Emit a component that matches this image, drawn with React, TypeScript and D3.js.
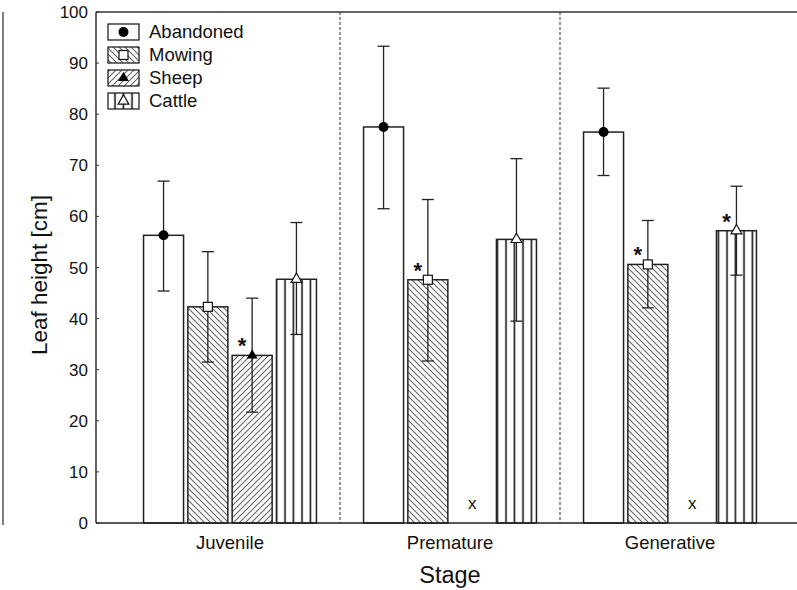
import React from "react";
import * as d3 from "d3";

const stages = ["Juvenile", "Premature", "Generative"];
const treatments = ["Abandoned", "Mowing", "Sheep", "Cattle"];

const abandonedMean = [56.3, 77.5, 76.5];
const abandonedLow = [45.4, 61.5, 68.0];
const abandonedHigh = [66.9, 93.3, 85.1];

const mowingMean = [42.3, 47.6, 50.6];
const mowingLow = [31.5, 31.7, 42.1];
const mowingHigh = [53.1, 63.3, 59.2];

const sheepMean: (number | null)[] = [32.8, null, null];
const sheepLow: (number | null)[] = [21.7, null, null];
const sheepHigh: (number | null)[] = [44.0, null, null];

const cattleMean = [47.7, 55.5, 57.2];
const cattleLow = [36.9, 39.5, 48.5];
const cattleHigh = [58.8, 71.3, 65.9];

// significance stars: [stage, treatment]
const starred: [string, string][] = [
  ["Juvenile", "Sheep"],
  ["Premature", "Mowing"],
  ["Generative", "Mowing"],
  ["Generative", "Cattle"],
];

const yTicks = [0, 10, 20, 30, 40, 50, 60, 70, 80, 90, 100];

const series: Record<string, { mean: (number | null)[]; low: (number | null)[]; high: (number | null)[] }> = {
  Abandoned: { mean: abandonedMean, low: abandonedLow, high: abandonedHigh },
  Mowing: { mean: mowingMean, low: mowingLow, high: mowingHigh },
  Sheep: { mean: sheepMean, low: sheepLow, high: sheepHigh },
  Cattle: { mean: cattleMean, low: cattleLow, high: cattleHigh },
};

const fills: Record<string, string> = {
  Abandoned: "white",
  Mowing: "url(#hatchBack)",
  Sheep: "url(#hatchFwd)",
  Cattle: "url(#vert)",
};

const FONT = "Liberation Sans, Arial, sans-serif";

function Marker({ t, cx, cy }: { t: string; cx: number; cy: number }) {
  if (t === "Abandoned") return <circle cx={cx} cy={cy} r={5} fill="#000" />;
  if (t === "Mowing")
    return <rect x={cx - 4.5} y={cy - 4.5} width={9} height={9} fill="white" stroke="#111" strokeWidth={1.2} />;
  const tri = d3.symbol().type(d3.symbolTriangle).size(50)();
  if (t === "Sheep") return <path d={tri || ""} transform={`translate(${cx},${cy})`} fill="#000" />;
  return <path d={tri || ""} transform={`translate(${cx},${cy})`} fill="white" stroke="#111" strokeWidth={1.2} />;
}

export default function App() {
  const W = 797, H = 590;
  const left = 96, top = 12, bottom = 523, right = 797;
  const y = d3.scaleLinear().domain([0, 100]).range([bottom, top]);
  const xStage = d3.scaleBand<string>().domain(stages).range([120, 780]).padding(0);
  const inner = d3.scaleBand<string>().domain(treatments).range([-86.45, 86.45]).paddingInner(0.097).paddingOuter(0);
  const bw = inner.bandwidth();
  const center = (s: string) => (xStage(s) as number) + xStage.bandwidth() / 2;
  const barX = (s: string, t: string) => center(s) + (inner(t) as number);
  const cap = 6;

  return (
    <svg width={W} height={H} style={{ position: "absolute", left: 0, top: 0, background: "white" }} fontFamily={FONT}>
      <defs>
        <pattern id="hatchBack" patternUnits="userSpaceOnUse" width={6} height={6}>
          <rect width={6} height={6} fill="white" />
          <path d="M-1,-1 L7,7 M-1,5 L1,7 M5,-1 L7,1" stroke="#666" strokeWidth={1.1} />
        </pattern>
        <pattern id="hatchFwd" patternUnits="userSpaceOnUse" width={6} height={6}>
          <rect width={6} height={6} fill="white" />
          <path d="M-1,7 L7,-1 M-1,1 L1,-1 M5,7 L7,5" stroke="#666" strokeWidth={1.1} />
        </pattern>
        <pattern id="vert" patternUnits="userSpaceOnUse" width={8.5} height={10} x={0.5}>
          <rect width={8.5} height={10} fill="white" />
          <line x1={4} x2={4} y1={0} y2={10} stroke="#222" strokeWidth={1.7} />
        </pattern>
      </defs>

      {/* left stray border */}
      <line x1={3} x2={3} y1={12} y2={525} stroke="#555" strokeWidth={1.5} />

      {/* frame */}
      <line x1={left} x2={right} y1={top} y2={top} stroke="#333" strokeWidth={1.5} />
      <line x1={left} x2={left} y1={top} y2={bottom} stroke="#333" strokeWidth={1.5} />

      {/* separators */}
      {stages.slice(0, -1).map((s) => {
        const xx = (xStage(s) as number) + xStage.bandwidth();
        return <line key={s} x1={xx} x2={xx} y1={top} y2={bottom} stroke="#333" strokeWidth={1} strokeDasharray="3,2" />;
      })}

      {/* y ticks */}
      {yTicks.map((v) => (
        <g key={v}>
          <line x1={left} x2={left + 3} y1={y(v)} y2={y(v)} stroke="#333" strokeWidth={1} />
          <text x={88} y={y(v) + 6} textAnchor="end" fontSize={17} fill="#111">{v}</text>
        </g>
      ))}

      {/* bars */}
      {stages.map((s, i) =>
        treatments.map((t) => {
          const m = series[t].mean[i];
          if (m == null) {
            return (
              <text key={s + t} x={barX(s, t) + bw / 2} y={y(0) - 14} textAnchor="middle" fontSize={17} fill="#111">x</text>
            );
          }
          const x0 = barX(s, t);
          const cx = x0 + bw / 2;
          const lo = series[t].low[i] as number;
          const hi = series[t].high[i] as number;
          return (
            <g key={s + t}>
              <rect x={x0} y={y(m)} width={bw} height={y(0) - y(m)} fill={fills[t]} stroke="#222" strokeWidth={1.5} />
              <line x1={cx} x2={cx} y1={y(hi)} y2={y(lo)} stroke="#222" strokeWidth={1.3} />
              <line x1={cx - cap} x2={cx + cap} y1={y(hi)} y2={y(hi)} stroke="#222" strokeWidth={1.3} />
              <line x1={cx - cap} x2={cx + cap} y1={y(lo)} y2={y(lo)} stroke="#222" strokeWidth={1.3} />
              <Marker t={t} cx={cx} cy={y(m)} />
            </g>
          );
        })
      )}

      {/* stars */}
      {starred.map(([s, t]) => {
        const i = stages.indexOf(s);
        const m = series[t].mean[i] as number;
        return (
          <text key={s + t} x={barX(s, t) + bw / 2 - 10} y={y(m) - 2} textAnchor="middle" fontSize={22} fontWeight="bold" fill="#111">*</text>
        );
      })}

      {/* x axis */}
      <line x1={left} x2={right} y1={bottom} y2={bottom} stroke="#222" strokeWidth={1.5} />
      {stages.map((s) => (
        <text key={s} x={center(s)} y={549} textAnchor="middle" fontSize={18.5} fill="#111">{s}</text>
      ))}

      {/* axis titles */}
      <text x={450} y={583} textAnchor="middle" fontSize={23.5} fill="#111">Stage</text>
      <text transform={`translate(47,${275}) rotate(-90)`} textAnchor="middle" fontSize={22.5} fill="#111">Leaf height [cm]</text>

      {/* legend */}
      {treatments.map((t, k) => {
        const ly = 24 + k * 23;
        return (
          <g key={t}>
            <rect x={108} y={ly} width={31} height={16} fill={fills[t]} stroke="#222" strokeWidth={1.3} />
            <Marker t={t} cx={123.5} cy={ly + 8} />
            <text x={149} y={ly + 14} fontSize={18.5} fill="#111">{t}</text>
          </g>
        );
      })}
    </svg>
  );
}
